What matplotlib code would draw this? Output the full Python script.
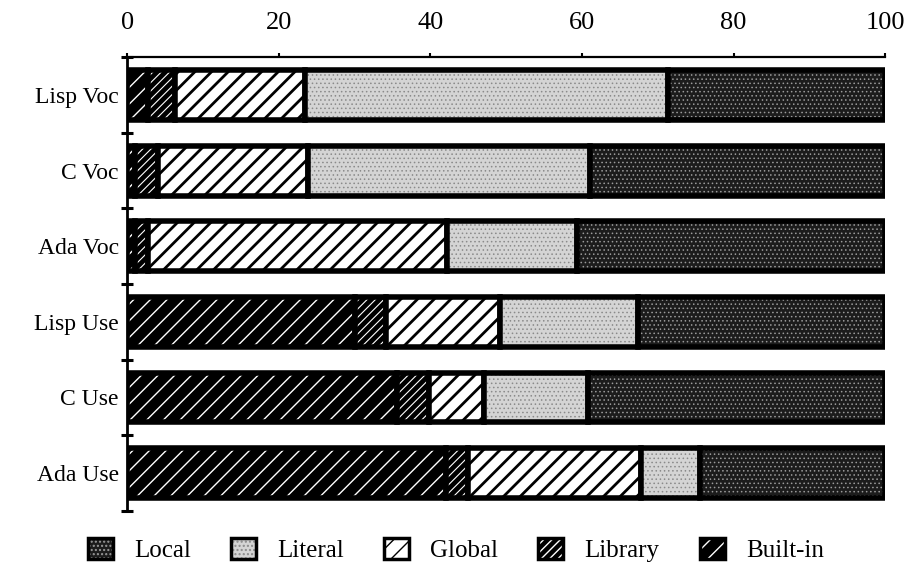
import matplotlib
matplotlib.use("Agg")
import matplotlib.pyplot as plt
import numpy as np
from matplotlib.patches import Patch
from matplotlib.legend_handler import HandlerTuple

categories = ["Lisp Voc", "C Voc", "Ada Voc", "Lisp Use", "C Use", "Ada Use"]
series_names = ["Built-in", "Library", "Global", "Literal", "Local"]
builtin = [2.8, 1.1, 1.0, 30.1, 35.6, 42.1]
library = [3.5, 3.0, 1.8, 4.1, 4.2, 2.8]
global_ = [17.2, 19.8, 39.4, 15.0, 7.3, 22.9]
literal = [47.9, 37.2, 17.2, 18.2, 13.7, 7.8]
local = [28.6, 38.9, 40.6, 32.6, 39.2, 24.4]
xticks = [0, 20, 40, 60, 80, 100]
legend_order = ["Local", "Literal", "Global", "Library", "Built-in"]

plt.rcParams['font.family'] = ['Liberation Serif', 'DejaVu Serif']

# style per series: facecolor, hatch, hatch colour, hatch linewidth
styles = {
    "Built-in": ("black", "//", "white", 1.0),
    "Library": ("black", "////", "white", 0.8),
    "Global": ("white", "//", "black", 2.0),
    "Literal": ("#d4d4d4", "....", "#8a8a8a", 0.6),
    "Local": ("#1c1c1c", "....", "#9a9a9a", 0.6),
}
values = {"Built-in": builtin, "Library": library, "Global": global_,
          "Literal": literal, "Local": local}

fig = plt.figure(figsize=(9.08, 5.67), dpi=100)
ax = fig.add_axes([0.140, 0.099, 0.835, 0.800])

y = np.arange(len(categories))
left = np.zeros(len(categories))
handles = {}
for name in series_names:
    fc, hatch, hc, hlw = styles[name]
    vals = np.array(values[name])
    with plt.rc_context({'hatch.linewidth': hlw, 'hatch.color': hc}):
        bars = ax.barh(y, vals, left=left, height=0.66, color=fc,
                       edgecolor=hc, hatch=hatch, linewidth=0)
        for b in bars:
            if hasattr(b, 'set_hatch_linewidth'):
                b.set_hatch_linewidth(hlw)
        ax.barh(y, vals, left=left, height=0.66, fill=False,
                edgecolor='black', linewidth=4.0)
        hp = Patch(facecolor=fc, edgecolor=hc, hatch=hatch, linewidth=0)
        if hasattr(hp, 'set_hatch_linewidth'):
            hp.set_hatch_linewidth(hlw)
    ho = Patch(fill=False, edgecolor='black', linewidth=2.5)
    handles[name] = (hp, ho)
    left = left + vals

ax.set_xlim(0, 100)
ax.set_ylim(len(categories) - 0.5, -0.5)
ax.xaxis.tick_top()
ax.set_xticks(xticks)
ax.set_xticklabels([str(t) for t in xticks], fontsize=19)
ax.tick_params(axis='x', direction='out', length=3, width=1.5, pad=14)
ax.set_yticks(y)
ax.set_yticklabels(categories, fontsize=17)
ax.tick_params(axis='y', which='major', length=0, pad=6)
ax.set_yticks(np.arange(-0.5, len(categories), 1.0), minor=True)
ax.tick_params(axis='y', which='minor', direction='inout', length=9, width=2.2)
for s in ['right', 'bottom']:
    ax.spines[s].set_visible(False)
ax.spines['left'].set_linewidth(2.0)
ax.spines['top'].set_linewidth(1.6)

fig.legend([handles[n] for n in legend_order], legend_order,
           handler_map={tuple: HandlerTuple(ndivide=1)},
           loc='center', bbox_to_anchor=(0.502, 0.030), ncol=5,
           frameon=False, fontsize=18, handlelength=1.0, handleheight=0.9,
           columnspacing=1.6, handletextpad=0.85, borderpad=0.2)

fig.savefig("out.png", dpi=100)
